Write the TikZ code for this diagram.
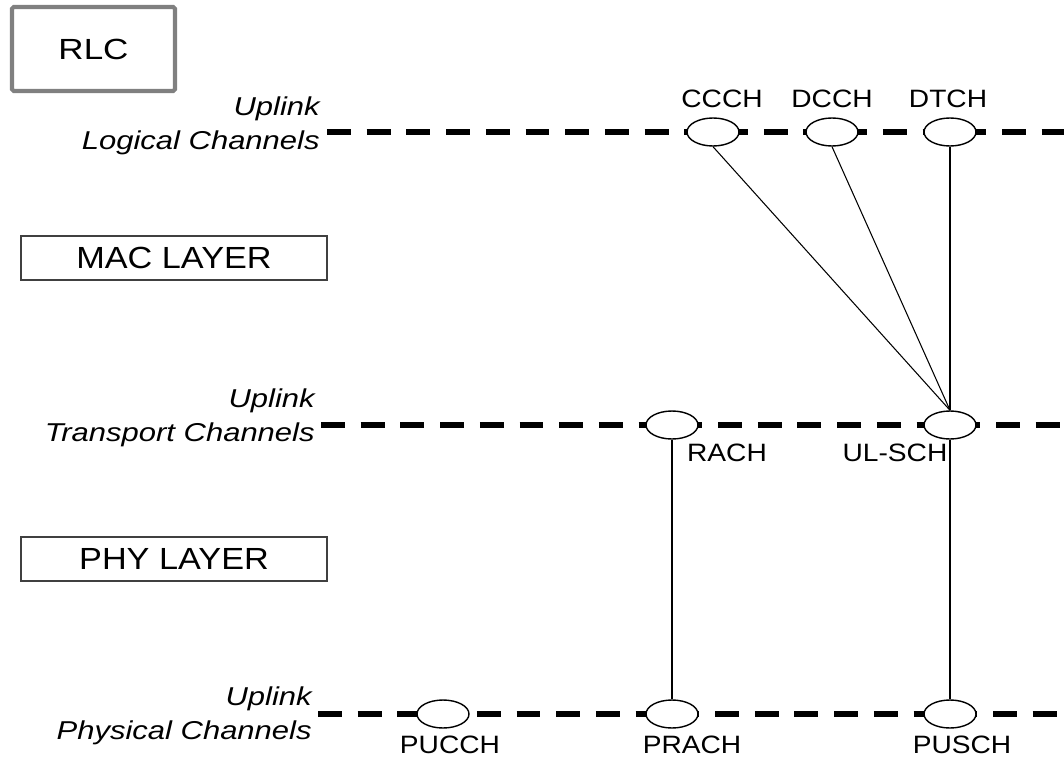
\documentclass[tikz,border=0pt]{standalone}
\usepackage{fontspec}
\setmainfont[FakeStretch=1.12]{Liberation Sans}
\newfontfamily\widesans[FakeStretch=1.2]{Liberation Sans}
\usepackage{tikz}
\usetikzlibrary{shapes.geometric}

\begin{document}
\begin{tikzpicture}[x=0.02cm, y=-0.02cm,
        chan/.style={draw, ellipse, fill=white, line width=0.8pt,
            minimum width=1.04cm, minimum height=0.56cm, inner sep=0pt},
        chanlbl/.style={inner sep=0pt, font=\fontsize{14.3}{17}\selectfont},
        uplbl/.style={inner sep=0pt, align=right, anchor=east,
            font=\widesans\itshape\fontsize{14.7}{19.3}\selectfont},
        layerbox/.style={draw=black!75, line width=0.8pt, minimum width=6.12cm,
            minimum height=0.88cm, font=\fontsize{17.4}{20}\selectfont},
        chanline/.style={line width=3pt, dash pattern=on 13.6pt off 9pt},
        link/.style={line width=0.6pt}]
        \useasboundingbox (0,0) rectangle (1064,770);

        % RLC
        \node[draw=black!50, line width=2.3pt, rounded corners=1pt,
            minimum width=3.26cm, minimum height=1.68cm,
            font=\widesans\fontsize{16.6}{20}\selectfont] (rlc) at (93.5,49) {RLC};

        % 層の箱
        \node[layerbox] (mac) at (174,258) {MAC LAYER};
        \node[layerbox] (phy) at (174,559) {PHY LAYER};

        % 各チャネルの名前
        \node[uplbl] (loglbl) at (320,126) {Uplink\\Logical Channels};
        \node[uplbl] (trlbl) at (315,418) {Uplink\\Transport Channels};
        \node[uplbl] (phylbl) at (312,716) {Uplink\\Physical Channels};

        % 破線
        \coordinate (logL) at (327,132);
        \coordinate (logR) at (1064,132);
        \coordinate (trL) at (321,425);
        \coordinate (trR) at (1064,425);
        \coordinate (phyL) at (318,714);
        \coordinate (phyR) at (1064,714);
        \draw[chanline] (logL) -- (logR);
        \draw[chanline] (trL) -- (trR);
        \draw[chanline] (phyL) -- (phyR);

        % 論理チャネル
        \node[chan] (ccch) at (713,132) {};
        \node[chan] (dcch) at (832,132) {};
        \node[chan] (dtch) at (950,132) {};
        \node[chanlbl] at (722,99) {CCCH};
        \node[chanlbl] at (832,99) {DCCH};
        \node[chanlbl] at (948,99) {DTCH};

        % トランスポートチャネル
        \node[chan] (rach) at (672,425) {};
        \node[chan] (ulsch) at (950,425) {};
        \node[chanlbl] at (727,453) {RACH};
        \node[chanlbl] at (895,453) {UL-SCH};

        % 物理チャネル
        \node[chan] (pucch) at (443,714) {};
        \node[chan] (prach) at (672,714) {};
        \node[chan] (pusch) at (950,714) {};
        \node[chanlbl] at (450,745) {PUCCH};
        \node[chanlbl] at (692,745) {PRACH};
        \node[chanlbl] at (962,745) {PUSCH};

        % マッピング
        \draw[link] (ccch.south) -- (ulsch.north);
        \draw[link] (dcch.south) -- (ulsch.north);
        \draw[link] (dtch.south) -- (ulsch.north);
        \draw[link] (rach.south) -- (prach.north);
        \draw[link] (ulsch.south) -- (pusch.north);
    \end{tikzpicture}
\end{document}
